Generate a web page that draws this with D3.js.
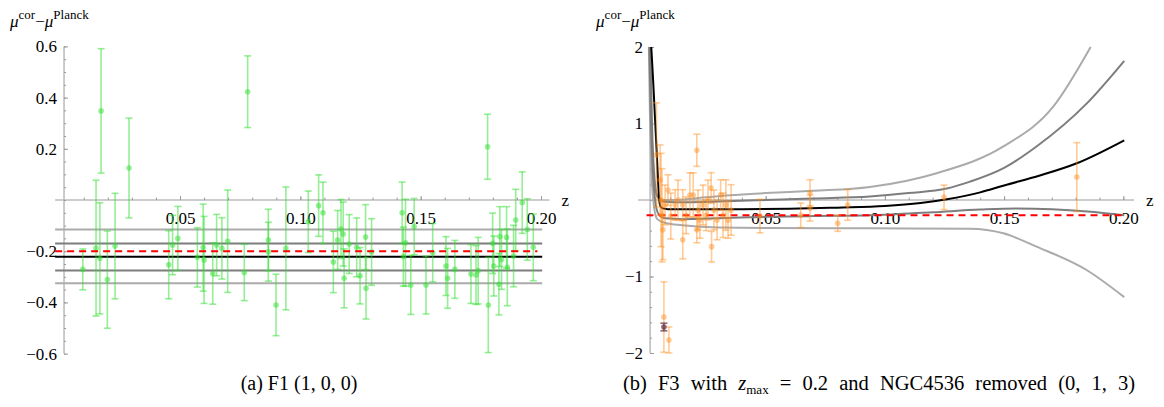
<!DOCTYPE html>
<html><head><meta charset="utf-8">
<script src="https://cdn.jsdelivr.net/npm/d3@7"></script>
<style>body{margin:0;background:#fff}svg{display:block}text{font-family:"Liberation Serif","Times New Roman",serif}</style>
</head><body><svg id="c" width="1164" height="407"></svg>
<script>
// ---------- Panel (a) data ----------
const zA   = [0.0096,0.0151,0.0167,0.0172,0.0198,0.0230,0.0288,0.0453,0.0469,0.0491,0.0572,0.0596,0.0600,0.0636,0.0652,0.0674,0.0698,0.0767,0.0781,0.0867,0.0867,0.0899,0.0940,0.1033,0.1076,0.1094,0.1137,0.1155,0.1169,0.1178,0.1182,0.1203,0.1234,0.1248,0.1271,0.1273,0.1296,0.1423,0.1428,0.1437,0.1459,0.1473,0.1522,0.1550,0.1605,0.1612,0.1642,0.1709,0.1730,0.1739,0.1778,0.1781,0.1799,0.1804,0.1825,0.1829,0.1836,0.1857,0.1860,0.1886,0.1895,0.1922,0.1943,0.1968];
const muA  = [-0.271,-0.188,-0.228,0.348,-0.311,-0.180,0.125,-0.253,-0.176,-0.150,-0.224,-0.186,-0.234,-0.287,-0.176,-0.189,-0.161,-0.283,0.423,-0.156,-0.202,-0.410,-0.189,-0.085,-0.022,-0.050,-0.242,-0.156,-0.113,-0.133,-0.306,-0.172,-0.185,-0.296,-0.145,-0.345,-0.203,-0.050,-0.221,-0.167,-0.332,-0.104,-0.332,-0.206,-0.258,-0.306,-0.271,-0.289,-0.293,-0.276,0.208,-0.410,-0.169,-0.258,-0.329,-0.143,-0.232,-0.146,-0.263,-0.219,-0.078,-0.010,-0.115,-0.185];
const errA = [0.080,0.265,0.217,0.243,0.190,0.206,0.195,0.133,0.116,0.125,0.116,0.170,0.170,0.120,0.120,0.120,0.200,0.110,0.140,0.120,0.115,0.120,0.240,0.120,0.120,0.120,0.120,0.115,0.115,0.125,0.115,0.115,0.115,0.110,0.127,0.120,0.130,0.120,0.115,0.170,0.115,0.110,0.113,0.114,0.115,0.117,0.113,0.115,0.115,0.130,0.127,0.186,0.118,0.117,0.120,0.117,0.117,0.120,0.150,0.120,0.120,0.120,0.120,0.130];
const fitA = -0.222;             // best fit (black)
const band1A = [-0.170,-0.275];  // 1 sigma (dark gray)
const band2A = [-0.115,-0.325];  // 2 sigma (light gray)
const planckOffset = -0.2;       // red dashed
const xMajorTicks = [0.05,0.10,0.15,0.20];
const yMajorTicksA = [-0.6,-0.4,-0.2,0.2,0.4,0.6];
const yMajorTicksB = [-2,-1,1,2];

// ---------- Panel (b) data ----------
const zB   = [0.0042,0.0057,0.0061,0.0065,0.0069,0.0073,0.0094,0.0078,0.0090,0.0102,0.0120,0.0132,0.0152,0.0152,0.0166,0.0182,0.0196,0.0211,0.0211,0.0216,0.0224,0.0237,0.0250,0.0258,0.0271,0.0273,0.0283,0.0296,0.0311,0.0321,0.0333,0.0342,0.0355,0.0476,0.0647,0.0686,0.0686,0.0802,0.0844,0.1248,0.1805];
const muB  = [0.59,0.26,0.00,-0.20,-0.39,-1.53,-1.83,-0.065,0.13,-0.21,-0.065,0.00,-0.52,-0.065,-0.20,0.065,0.065,0.65,-0.39,-0.13,-0.26,-0.065,-0.20,0.00,0.157,-0.61,-0.13,-0.26,0.065,-0.20,-0.065,-0.26,-0.13,-0.21,-0.20,0.095,-0.105,-0.305,-0.065,0.035,0.30];
const errB = [0.68,0.46,0.61,0.61,0.39,0.46,0.17,0.26,0.20,0.30,0.20,0.26,0.25,0.20,0.24,0.29,0.29,0.21,0.17,0.26,0.24,0.26,0.20,0.26,0.20,0.20,0.26,0.26,0.20,0.29,0.33,0.24,0.33,0.22,0.16,0.17,0.17,0.105,0.20,0.16,0.45];
const zSpecial = [0.0073], muSpecial = [-1.66], errSpecial = [0.05];

const blackZ  = [0.0020,0.0028,0.0036,0.0044,0.0052,0.0058,0.0068,0.009,0.02,0.04,0.06,0.08,0.10,0.115,0.126,0.14,0.15,0.165,0.1805,0.2004];
const blackMu = [2.0,1.55,1.05,0.55,0.05,-0.08,-0.11,-0.12,-0.12,-0.12,-0.115,-0.10,-0.08,-0.04,0.01,0.10,0.19,0.32,0.48,0.78];
const upDarkZ  = [0.0016,0.0023,0.0032,0.0045,0.007,0.012,0.03,0.05,0.07,0.0937,0.11,0.1259,0.1357,0.15,0.1636,0.1846,0.2004];
const upDarkMu = [2.0,1.0,0.35,0.05,-0.02,-0.03,-0.02,0.0,0.02,0.045,0.09,0.15,0.24,0.42,0.70,1.26,1.82];
const upLightZ  = [0.0013,0.0020,0.0030,0.0045,0.007,0.012,0.02,0.03,0.05,0.07,0.0937,0.1217,0.1497,0.1706,0.1863];
const upLightMu = [2.0,1.0,0.3,0.05,0.0,0.0,0.02,0.05,0.09,0.12,0.17,0.35,0.70,1.22,2.0];
const loDarkZ  = [0.0012,0.0018,0.0026,0.0036,0.005,0.008,0.015,0.03,0.05,0.07,0.0937,0.12,0.14,0.155,0.17,0.185,0.2004];
const loDarkMu = [2.0,1.1,0.4,0.0,-0.18,-0.24,-0.25,-0.24,-0.22,-0.21,-0.20,-0.16,-0.125,-0.11,-0.12,-0.15,-0.20];
const loLightZ  = [0.0010,0.0015,0.0022,0.0032,0.0045,0.008,0.015,0.03,0.05,0.0937,0.1357,0.1497,0.1636,0.1846,0.2004];
const loLightMu = [2.0,1.0,0.3,-0.1,-0.25,-0.30,-0.33,-0.36,-0.365,-0.37,-0.375,-0.435,-0.61,-0.915,-1.27];

// ---------- drawing ----------
const svg = d3.select('#c');
const SERIF = '"Liberation Serif","Times New Roman",serif';

const xA = d3.scaleLinear().domain([0,0.2]).range([59.7,541]);
const yA = d3.scaleLinear().domain([0,0.6]).range([200,46.4]);
const xB = d3.scaleLinear().domain([0,0.2]).range([646.5,1123.3]);
const yB = d3.scaleLinear().domain([0,2]).range([200,47]);

function axes(g, x, y, o){
  g.append('line').attr('x1',x(o.xLo)).attr('x2',x(o.xHi)).attr('y1',y(0)).attr('y2',y(0))
    .attr('stroke','#9a9a9a').attr('stroke-width',1);
  const xm = g.append('g').attr('transform',`translate(0,${y(0)})`)
    .call(d3.axisBottom(x).tickValues(d3.range(1,21).map(d=>d/100)).tickSize(-2.5).tickFormat(''));
  xm.select('.domain').remove(); xm.selectAll('line').attr('stroke','#9a9a9a');
  const xM = g.append('g').attr('transform',`translate(0,${y(0)})`)
    .call(d3.axisBottom(x).tickValues(xMajorTicks).tickSize(-4).tickPadding(12).tickFormat(d3.format('.2f')));
  xM.select('.domain').remove(); xM.selectAll('line').attr('stroke','#9a9a9a');
  xM.attr('font-family',SERIF).attr('font-size',17);
  xM.selectAll('text').attr('fill','#000');
  const ax = x(o.yAxisZ);
  g.append('line').attr('x1',ax).attr('x2',ax).attr('y1',y(o.yLo)).attr('y2',y(o.yHi))
    .attr('stroke','#b5b5b5').attr('stroke-width',1.4);
  const ym = g.append('g').attr('transform',`translate(${ax},0)`)
    .call(d3.axisLeft(y).tickValues(o.yMinor).tickSize(-2).tickFormat(''));
  ym.select('.domain').remove(); ym.selectAll('line').attr('stroke','#9a9a9a');
  const yM = g.append('g').attr('transform',`translate(${ax},0)`)
    .call(d3.axisLeft(y).tickValues(o.yMajor).tickSize(-4).tickPadding(7).tickFormat(o.yFmt));
  yM.select('.domain').remove(); yM.selectAll('line').attr('stroke','#9a9a9a');
  yM.attr('font-family',SERIF).attr('font-size',17);
  yM.selectAll('text').attr('fill','#000');
  g.append('text').attr('x',x(o.xHi)+12).attr('y',y(0)+6).attr('font-size',17).text('z');
  const t = g.append('text').attr('x',ax-54).attr('y',27).attr('font-size',17);
  t.append('tspan').attr('font-style','italic').text('μ');
  t.append('tspan').attr('dy',-8).attr('font-size',13).text('cor');
  t.append('tspan').attr('dy',8).text('−');
  t.append('tspan').attr('font-style','italic').text('μ');
  t.append('tspan').attr('dy',-8).attr('font-size',13).text('Planck');
}

function errorBars(g, x, y, zs, mus, errs, color, opacity, cap){
  const d = zs.map((z,i)=>({z, m:mus[i], e:errs[i]}));
  const gg = g.append('g').attr('stroke',color).attr('stroke-opacity',opacity).attr('stroke-width',1.6);
  gg.selectAll('line.v').data(d).join('line').attr('class','v')
    .attr('x1',p=>x(p.z)).attr('x2',p=>x(p.z)).attr('y1',p=>y(p.m+p.e)).attr('y2',p=>y(p.m-p.e));
  gg.selectAll('line.t').data(d).join('line').attr('class','t')
    .attr('x1',p=>x(p.z)-cap).attr('x2',p=>x(p.z)+cap).attr('y1',p=>y(p.m+p.e)).attr('y2',p=>y(p.m+p.e));
  gg.selectAll('line.b').data(d).join('line').attr('class','b')
    .attr('x1',p=>x(p.z)-cap).attr('x2',p=>x(p.z)+cap).attr('y1',p=>y(p.m-p.e)).attr('y2',p=>y(p.m-p.e));
  g.append('g').selectAll('circle').data(d).join('circle')
    .attr('cx',p=>x(p.z)).attr('cy',p=>y(p.m)).attr('r',2.8)
    .attr('fill',color).attr('fill-opacity',opacity);
}

// ----- panel a -----
const gA = svg.append('g');
axes(gA, xA, yA, {xLo:-0.0019, xHi:0.2035, yAxisZ:0.0018, yLo:-0.6, yHi:0.6,
  yMajor:yMajorTicksA, yMinor:d3.range(-12,13).map(d=>d*0.05), yFmt:d3.format('.1f')});
const hx1 = xA(-0.0019), hx2 = xA(0.2005);
band2A.forEach(v=>gA.append('line').attr('x1',hx1).attr('x2',hx2).attr('y1',yA(v)).attr('y2',yA(v)).attr('stroke','#ababab').attr('stroke-width',2));
band1A.forEach(v=>gA.append('line').attr('x1',hx1).attr('x2',hx2).attr('y1',yA(v)).attr('y2',yA(v)).attr('stroke','#7d7d7d').attr('stroke-width',2));
gA.append('line').attr('x1',hx1).attr('x2',hx2).attr('y1',yA(fitA)).attr('y2',yA(fitA)).attr('stroke','#000').attr('stroke-width',2);
errorBars(gA, xA, yA, zA, muA, errA, '#2ee02e', 0.5, 3.5);
gA.append('line').attr('x1',hx1).attr('x2',xA(0.1985)).attr('y1',yA(planckOffset)).attr('y2',yA(planckOffset))
  .attr('stroke','#f00').attr('stroke-width',2).attr('stroke-dasharray','7,5');

// ----- panel b -----
const gB = svg.append('g');
axes(gB, xB, yB, {xLo:-0.0035, xHi:0.2045, yAxisZ:0.0015, yLo:-2, yHi:2,
  yMajor:yMajorTicksB, yMinor:d3.range(-10,11).map(d=>d*0.2), yFmt:d3.format('d')});
svg.append('clipPath').attr('id','clipB').append('rect').attr('x',640).attr('y',46).attr('width',500).attr('height',320);
const cg = gB.append('g').attr('clip-path','url(#clipB)');
const line = d3.line().x(d=>xB(d[0])).y(d=>yB(d[1])).curve(d3.curveMonotoneX);
const curves = [
  [upLightZ, upLightMu, '#ababab'], [loLightZ, loLightMu, '#ababab'],
  [upDarkZ, upDarkMu, '#7d7d7d'], [loDarkZ, loDarkMu, '#7d7d7d'],
  [blackZ, blackMu, '#000']
];
curves.forEach(([zs,ms,c])=>cg.append('path').attr('d',line(zs.map((z,i)=>[z,ms[i]])))
  .attr('fill','none').attr('stroke',c).attr('stroke-width',2));
gB.append('line').attr('x1',xB(0.0)).attr('x2',xB(0.1995)).attr('y1',yB(planckOffset)).attr('y2',yB(planckOffset))
  .attr('stroke','#f00').attr('stroke-width',2).attr('stroke-dasharray','7,5');
errorBars(gB, xB, yB, zB, muB, errB, '#ff8c1a', 0.45, 3.5);
errorBars(gB, xB, yB, zSpecial, muSpecial, errSpecial, '#6b3b4b', 0.75, 3.5);

// ----- captions -----
svg.append('text').attr('x',299).attr('y',390).attr('text-anchor','middle').attr('font-size',20)
  .text('(a) F1 (1, 0, 0)');
const cb = svg.append('text').attr('x',879).attr('y',390).attr('text-anchor','middle').attr('font-size',20.5)
  .attr('word-spacing',6);
cb.append('tspan').text('(b) F3 with ');
cb.append('tspan').attr('font-style','italic').text('z');
cb.append('tspan').attr('dy',4).attr('font-size',13).attr('word-spacing',0).text('max');
cb.append('tspan').attr('dy',-4).text(' = 0.2 and NGC4536 removed (0, 1, 3)');
</script></body></html>
